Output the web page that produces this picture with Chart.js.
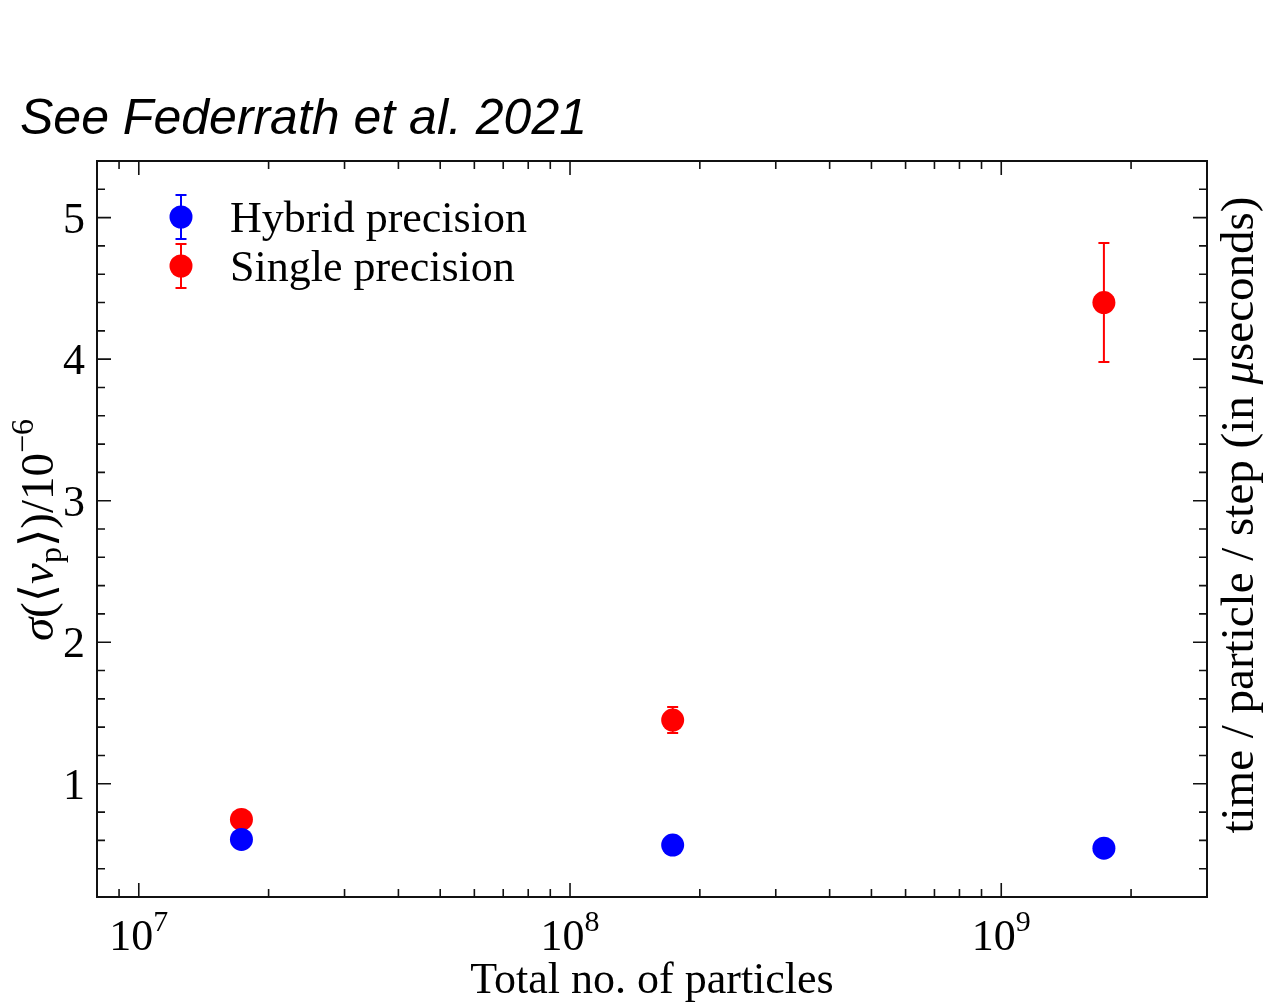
<!DOCTYPE html>
<html><head><meta charset="utf-8">
<script src="https://cdn.jsdelivr.net/npm/chart.js@4/dist/chart.umd.min.js"></script>
<style>html,body{margin:0;padding:0;background:#fff;overflow:hidden}#wrap{width:1267px;height:1004px;position:relative}</style>
</head><body><div id="wrap"><canvas id="c" width="1267" height="1004"></canvas></div>
<script>
// ---- data ----
const particles = [1.73e7, 1.73e8, 1.73e9];
const hybridSigma = [0.607, 0.567, 0.545];
const hybridErr = [0.02, 0.02, 0.02];
const singleSigma = [0.748, 1.45, 4.40];
const singleErr = [0.03, 0.092, 0.42];
const seriesLabels = ['Hybrid precision', 'Single precision'];
const seriesColors = ['#0000ff', '#ff0000'];
const xMajorTicks = [1e7, 1e8, 1e9];
const xTickExponents = ['7', '8', '9'];
const yTickLabels = [1, 2, 3, 4, 5];
const xTitle = 'Total no. of particles';
const rightTitleParts = ['time / particle / step (in ', '\u03bc', 'seconds)'];
const chartTitle = 'See Federrath et al. 2021';

const SERIF = '"Liberation Serif","DejaVu Serif",serif';
const errs = [hybridErr, singleErr];

function pts(vals) { return particles.map((p, i) => ({x: p, y: vals[i]})); }

function drawRun(ctx, parts) {
  let tot = 0;
  parts.forEach(p => { ctx.font = p.f; p.w = ctx.measureText(p.t).width; tot += p.w; });
  ctx.textAlign = 'left';
  let cx = -tot / 2;
  parts.forEach(p => { ctx.font = p.f; ctx.fillText(p.t, cx, p.dy || 0); cx += p.w; });
}

const deco = {
  id: 'deco',
  beforeDatasetsDraw(chart) {
    const ctx = chart.ctx, ys = chart.scales.y;
    chart.data.datasets.forEach((ds, di) => {
      const meta = chart.getDatasetMeta(di);
      ctx.save();
      ctx.strokeStyle = ds.backgroundColor; ctx.lineWidth = 2;
      meta.data.forEach((el, i) => {
        const v = ds.data[i].y, e = errs[di][i];
        const y1 = ys.getPixelForValue(v + e), y2 = ys.getPixelForValue(v - e);
        ctx.beginPath();
        ctx.moveTo(el.x, y1); ctx.lineTo(el.x, y2);
        ctx.moveTo(el.x - 5.5, y1); ctx.lineTo(el.x + 5.5, y1);
        ctx.moveTo(el.x - 5.5, y2); ctx.lineTo(el.x + 5.5, y2);
        ctx.stroke();
      });
      ctx.restore();
    });
  },
  afterDraw(chart) {
    const ctx = chart.ctx, a = chart.chartArea, xs = chart.scales.x, ys = chart.scales.y;
    ctx.save();
    // frame
    ctx.strokeStyle = '#111'; ctx.lineWidth = 2;
    ctx.strokeRect(a.left, a.top, a.right - a.left, a.bottom - a.top);
    // y ticks
    ctx.lineWidth = 1.6;
    ctx.beginPath();
    for (let k = 1; k <= 27; k++) {
      const v = k * 0.2;
      if (v < ys.min - 1e-9 || v > ys.max + 1e-9) continue;
      const py = ys.getPixelForValue(v);
      const major = k % 5 === 0;
      const len = major ? 14 : 8;
      ctx.moveTo(a.left, py); ctx.lineTo(a.left + len, py);
      ctx.moveTo(a.right, py); ctx.lineTo(a.right - len, py);
    }
    // x ticks
    for (let n = 6; n <= 9; n++) {
      for (let k = 1; k <= 9; k++) {
        const v = k * Math.pow(10, n);
        if (v < xs.min || v > xs.max) continue;
        const px = xs.getPixelForValue(v);
        const len = k === 1 ? 14 : 8;
        ctx.moveTo(px, a.bottom); ctx.lineTo(px, a.bottom - len);
        ctx.moveTo(px, a.top); ctx.lineTo(px, a.top + len);
      }
    }
    ctx.stroke();
    ctx.fillStyle = '#000';
    // y tick labels
    ctx.font = '44px ' + SERIF; ctx.textAlign = 'right'; ctx.textBaseline = 'alphabetic';
    yTickLabels.forEach(v => {
      ctx.fillText(String(v), a.left - 12, ys.getPixelForValue(v) + 15);
    });
    // x tick labels with superscripts
    ctx.textAlign = 'left';
    xMajorTicks.forEach((v, i) => {
      const px = xs.getPixelForValue(v);
      ctx.font = '44px ' + SERIF; const w1 = ctx.measureText('10').width;
      ctx.font = '30px ' + SERIF; const w2 = ctx.measureText(xTickExponents[i]).width;
      const x0 = px - (w1 + w2) / 2;
      ctx.font = '44px ' + SERIF; ctx.fillText('10', x0, 950);
      ctx.font = '30px ' + SERIF; ctx.fillText(xTickExponents[i], x0 + w1, 931);
    });
    // x title
    ctx.font = '44px ' + SERIF; ctx.textAlign = 'center';
    ctx.fillText(xTitle, (a.left + a.right) / 2, 993);
    // right title
    ctx.save();
    ctx.translate(1253, 515); ctx.rotate(-Math.PI / 2);
    drawRun(ctx, [
      {t: rightTitleParts[0], f: '47px ' + SERIF},
      {t: rightTitleParts[1], f: 'italic 47px ' + SERIF},
      {t: rightTitleParts[2], f: '47px ' + SERIF}
    ]);
    ctx.restore();
    // left title  sigma(<v_p>)/10^-6
    ctx.save();
    ctx.translate(53, 530); ctx.rotate(-Math.PI / 2);
    drawRun(ctx, [
      {t: '\u03c3', f: 'italic 47px ' + SERIF},
      {t: '(\u27e8', f: '47px ' + SERIF},
      {t: 'v', f: 'italic 47px ' + SERIF},
      {t: 'p', f: '32px ' + SERIF, dy: 8},
      {t: '\u27e9)/10', f: '47px ' + SERIF},
      {t: '\u22126', f: '32px ' + SERIF, dy: -20}
    ]);
    ctx.restore();
    // legend
    chart.data.datasets.forEach((ds, di) => {
      const lx = a.left + 84, ly = a.top + 56 + di * 49;
      ctx.strokeStyle = ds.backgroundColor; ctx.lineWidth = 2;
      ctx.beginPath();
      ctx.moveTo(lx, ly - 22); ctx.lineTo(lx, ly + 22);
      ctx.moveTo(lx - 5.5, ly - 22); ctx.lineTo(lx + 5.5, ly - 22);
      ctx.moveTo(lx - 5.5, ly + 22); ctx.lineTo(lx + 5.5, ly + 22);
      ctx.stroke();
      ctx.fillStyle = ds.backgroundColor;
      ctx.beginPath(); ctx.arc(lx, ly, 11.5, 0, Math.PI * 2); ctx.fill();
      ctx.fillStyle = '#000'; ctx.font = '44px ' + SERIF; ctx.textAlign = 'left';
      ctx.fillText(ds.label, lx + 49, ly + 15);
    });
    // chart title
    ctx.font = 'italic 50px "Liberation Sans","DejaVu Sans",sans-serif';
    ctx.textAlign = 'left';
    ctx.fillText(chartTitle, 20, 134);
    ctx.restore();
  }
};

new Chart(document.getElementById('c'), {
  type: 'scatter',
  data: {
    datasets: [
      {label: seriesLabels[0], data: pts(hybridSigma), backgroundColor: seriesColors[0], borderWidth: 0, pointRadius: 11.5, pointHoverRadius: 11.5},
      {label: seriesLabels[1], data: pts(singleSigma), backgroundColor: seriesColors[1], borderWidth: 0, pointRadius: 11.5, pointHoverRadius: 11.5}
    ]
  },
  options: {
    responsive: false, devicePixelRatio: 1, animation: false,
    events: [],
    layout: {padding: {top: 161, left: 0, right: 0, bottom: 0}},
    plugins: {legend: {display: false}, tooltip: {enabled: false}, title: {display: false}},
    scales: {
      x: {type: 'logarithmic', position: 'bottom', min: 8e6, max: 3e9,
          ticks: {display: false}, grid: {display: false}, border: {display: false},
          afterFit(s) { s.height = 107; }},
      y: {type: 'linear', position: 'left', min: 0.2, max: 5.4,
          ticks: {display: false}, grid: {display: false}, border: {display: false},
          afterFit(s) { s.width = 97; }},
      y2: {type: 'linear', position: 'right', min: 0.2, max: 5.4,
          ticks: {display: false}, grid: {display: false}, border: {display: false},
          afterFit(s) { s.width = 60; }}
    }
  },
  plugins: [deco]
});
</script></body></html>
